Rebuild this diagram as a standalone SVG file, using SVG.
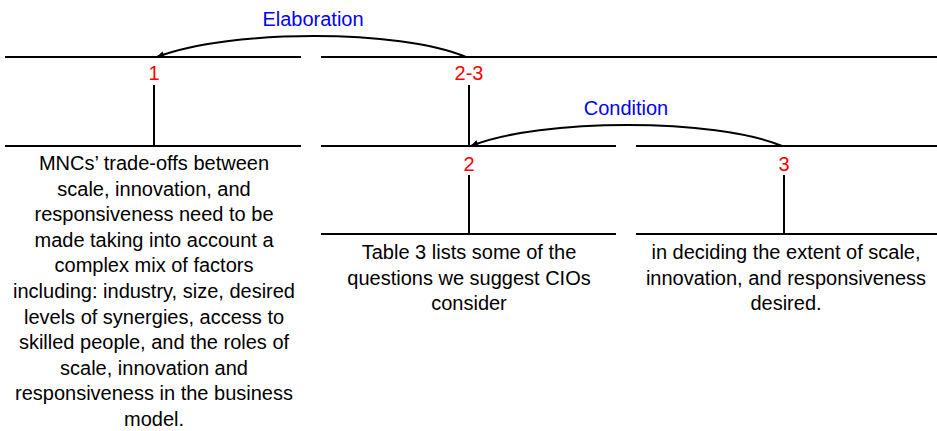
<svg xmlns="http://www.w3.org/2000/svg" width="937" height="431" viewBox="0 0 937 431">
<style>
.ln{stroke:#000;stroke-width:2;fill:none}
.t{font-family:"Liberation Sans",Arial,sans-serif;font-size:20px;fill:#000;text-anchor:middle}
.n{font-family:"Liberation Sans",Arial,sans-serif;font-size:20px;fill:#ff0000;text-anchor:middle}
.r{font-family:"Liberation Sans",Arial,sans-serif;font-size:20px;fill:#0000ff;text-anchor:middle}
</style>
<defs>
<marker id="ah" viewBox="0 0 10 10" refX="9" refY="5" markerWidth="10" markerHeight="8" orient="auto" markerUnits="userSpaceOnUse">
<path d="M0,1 L10,5 L0,9 z" fill="#000"/>
</marker>
</defs>
<rect width="937" height="431" fill="#fff"/>
<g id="node-1">
<line class="ln" x1="5" y1="57" x2="301" y2="57"/>
<text class="n" x="154" y="80">1</text>
<line class="ln" x1="154" y1="85" x2="154" y2="146"/>
<line class="ln" x1="5" y1="146" x2="301" y2="146"/>
<text class="t" x="154" y="170">MNCs’ trade-offs between</text>
<text class="t" x="154" y="195.6">scale, innovation, and</text>
<text class="t" x="154" y="221.2">responsiveness need to be</text>
<text class="t" x="154" y="246.8">made taking into account a</text>
<text class="t" x="154" y="272.4">complex mix of factors</text>
<text class="t" x="154" y="298">including: industry, size, desired</text>
<text class="t" x="154" y="323.6">levels of synergies, access to</text>
<text class="t" x="154" y="349.2">skilled people, and the roles of</text>
<text class="t" x="154" y="374.8">scale, innovation and</text>
<text class="t" x="154" y="400.4">responsiveness in the business</text>
<text class="t" x="154" y="426">model.</text>
</g>
<g id="node-2-3">
<line class="ln" x1="321" y1="57" x2="937" y2="57"/>
<text class="n" x="469" y="80">2-3</text>
<line class="ln" x1="469" y1="85" x2="469" y2="146"/>
</g>
<g id="node-2">
<line class="ln" x1="321" y1="146" x2="616" y2="146"/>
<text class="n" x="469" y="171">2</text>
<line class="ln" x1="469" y1="175" x2="469" y2="234"/>
<line class="ln" x1="321" y1="234" x2="616" y2="234"/>
<text class="t" x="469" y="259">Table 3 lists some of the</text>
<text class="t" x="469" y="284.6">questions we suggest CIOs</text>
<text class="t" x="469" y="310.2">consider</text>
</g>
<g id="node-3">
<line class="ln" x1="636" y1="146" x2="937" y2="146"/>
<text class="n" x="784" y="171">3</text>
<line class="ln" x1="784" y1="175" x2="784" y2="234"/>
<line class="ln" x1="636" y1="234" x2="937" y2="234"/>
<text class="t" x="786" y="259">in deciding the extent of scale,</text>
<text class="t" x="786" y="284.6">innovation, and responsiveness</text>
<text class="t" x="786" y="310.2">desired.</text>
</g>
<g id="connectors">
<path class="ln" d="M466,57 C400,29 230,29 157,57" marker-end="url(#ah)"/>
<text class="r" x="313" y="26">Elaboration</text>
<path class="ln" d="M782,146 C716,118 540,118 471,146" marker-end="url(#ah)"/>
<text class="r" x="626" y="115">Condition</text>
</g>
</svg>
